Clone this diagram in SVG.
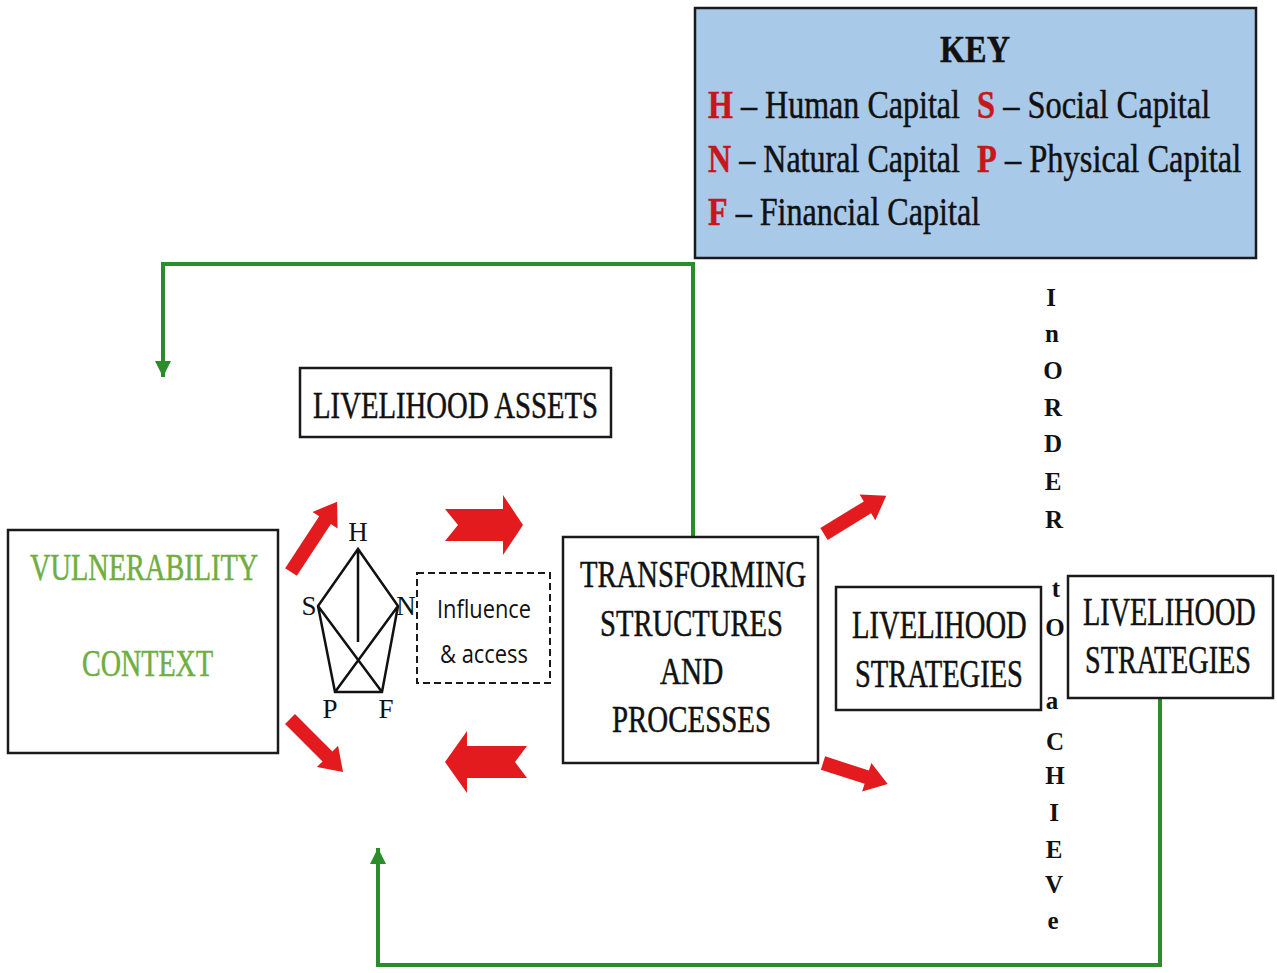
<svg xmlns="http://www.w3.org/2000/svg" width="1277" height="973" viewBox="0 0 1277 973">
<style>
.box{fill:#fff;stroke:#1a1a1a;stroke-width:2.5}
.t{font-family:"Liberation Serif","Times New Roman",serif;fill:#111;stroke:#111;stroke-width:0.5}
.g{fill:#6fae3f;stroke:#6fae3f}
.red{fill:#c8161d;stroke:#c8161d}
.ra{fill:#e31b1f}
.conn{fill:none;stroke:#2a8c2a;stroke-width:4}
.v{font-family:"Liberation Serif",serif;font-weight:bold;font-size:25px;fill:#111;text-anchor:middle}
.pl{font-family:"Liberation Serif",serif;font-size:27px;fill:#111;text-anchor:middle}
.pe{stroke:#111;stroke-width:2.5;fill:none}
</style>
<defs>
<marker id="gh" markerUnits="userSpaceOnUse" markerWidth="18" markerHeight="18" refX="16" refY="8" orient="auto">
<path d="M0,0 L16,8 L0,16 Z" fill="#2a8c2a"/>
</marker>
</defs>
<rect width="1277" height="973" fill="#fff"/>

<g id="connectors">
<path class="conn" d="M693,537 V264 H163 V377" marker-end="url(#gh)"/>
<path class="conn" d="M1160,698 V965 H378 V848" marker-end="url(#gh)"/>
<polygon class="ra" points="0,-7 62,-7 62,-15 84,0 62,15 62,7 0,7" transform="translate(291,572) rotate(-56.7)"/>
<polygon class="ra" points="0,-7 53,-7 53,-15 75,0 53,15 53,7 0,7" transform="translate(290,719) rotate(45)"/>
<polygon class="ra" points="0,-7 51,-7 51,-15 73,0 51,15 51,7 0,7" transform="translate(824,534) rotate(-31.5)"/>
<polygon class="ra" points="0,-7 46,-7 46,-15 68,0 46,15 46,7 0,7" transform="translate(823,763) rotate(18)"/>
<polygon class="ra" points="445,509 503,509 503,495 523,525 503,555 503,541 445,541 458,525"/>
<polygon class="ra" points="445,762 467,731 467,746 527,746 515,762 527,778 467,778 467,793"/>
</g>

<g id="key">
<rect x="695" y="8" width="561" height="250" fill="#a9c9e8" stroke="#1a1a1a" stroke-width="2.5"/>
<text class="t" x="975" y="62" font-size="38" font-weight="bold" text-anchor="middle" textLength="70" lengthAdjust="spacingAndGlyphs">KEY</text>
<text class="t" transform="translate(708,118) scale(0.72,1)" x="0" y="0" font-size="40" textLength="350" lengthAdjust="spacingAndGlyphs"><tspan class="red" font-weight="bold">H</tspan> – Human Capital</text>
<text class="t" transform="translate(977,118) scale(0.72,1)" x="0" y="0" font-size="40" textLength="324" lengthAdjust="spacingAndGlyphs"><tspan class="red" font-weight="bold">S</tspan> – Social Capital</text>
<text class="t" transform="translate(708,172) scale(0.72,1)" x="0" y="0" font-size="40" textLength="350" lengthAdjust="spacingAndGlyphs"><tspan class="red" font-weight="bold">N</tspan> – Natural Capital</text>
<text class="t" transform="translate(977,172) scale(0.72,1)" x="0" y="0" font-size="40" textLength="367" lengthAdjust="spacingAndGlyphs"><tspan class="red" font-weight="bold">P</tspan> – Physical Capital</text>
<text class="t" transform="translate(708,225) scale(0.72,1)" x="0" y="0" font-size="40" textLength="378" lengthAdjust="spacingAndGlyphs"><tspan class="red" font-weight="bold">F</tspan> – Financial Capital</text>
</g>

<g id="livelihood-assets">
<rect class="box" x="300" y="368" width="311" height="69"/>
<text class="t" transform="translate(313,418) scale(0.72,1)" x="0" y="0" font-size="38" textLength="396" lengthAdjust="spacingAndGlyphs">LIVELIHOOD ASSETS</text>
</g>

<g id="vulnerability-context">
<rect class="box" x="8" y="530" width="270" height="223"/>
<text class="t g" transform="translate(30,580) scale(0.72,1)" x="0" y="0" font-size="38" textLength="317" lengthAdjust="spacingAndGlyphs">VULNERABILITY</text>
<text class="t g" transform="translate(82,676) scale(0.72,1)" x="0" y="0" font-size="38" textLength="182" lengthAdjust="spacingAndGlyphs">CONTEXT</text>
</g>

<g id="asset-pentagon">
<path class="pe" d="M358,549 L318,606 L335,692 L382,692 L398,606 Z M358,549 V642 M318,606 L382,692 M398,606 L335,692"/>
<text class="pl" x="358" y="541">H</text>
<text class="pl" x="309" y="615">S</text>
<text class="pl" x="406" y="615">N</text>
<text class="pl" x="330" y="718">P</text>
<text class="pl" x="386" y="718">F</text>
</g>

<g id="influence-access">
<rect x="417" y="573" width="133" height="110" fill="#fff" stroke="#1a1a1a" stroke-width="2" stroke-dasharray="7,4"/>
<text x="437" y="618" font-family="Open Sans, Liberation Sans, sans-serif" font-size="26" fill="#111" textLength="94" lengthAdjust="spacingAndGlyphs">Influence</text>
<text x="440" y="663" font-family="Open Sans, Liberation Sans, sans-serif" font-size="26" fill="#111" textLength="88" lengthAdjust="spacingAndGlyphs">&amp; access</text>
</g>

<g id="transforming-structures">
<rect class="box" x="563" y="537" width="255" height="226"/>
<text class="t" transform="translate(580,587) scale(0.72,1)" x="0" y="0" font-size="38" textLength="314" lengthAdjust="spacingAndGlyphs">TRANSFORMING</text>
<text class="t" transform="translate(600,636) scale(0.72,1)" x="0" y="0" font-size="38" textLength="254" lengthAdjust="spacingAndGlyphs">STRUCTURES</text>
<text class="t" transform="translate(660,684) scale(0.72,1)" x="0" y="0" font-size="38" textLength="88" lengthAdjust="spacingAndGlyphs">AND</text>
<text class="t" transform="translate(612,732) scale(0.72,1)" x="0" y="0" font-size="38" textLength="221" lengthAdjust="spacingAndGlyphs">PROCESSES</text>
</g>

<g id="livelihood-strategies-1">
<rect class="box" x="836" y="587" width="205" height="123"/>
<text class="t" transform="translate(852,638) scale(0.68,1)" x="0" y="0" font-size="40" textLength="257" lengthAdjust="spacingAndGlyphs">LIVELIHOOD</text>
<text class="t" transform="translate(855,687) scale(0.68,1)" x="0" y="0" font-size="40" textLength="247" lengthAdjust="spacingAndGlyphs">STRATEGIES</text>
</g>

<g id="livelihood-strategies-2">
<rect class="box" x="1068" y="576" width="205" height="122"/>
<text class="t" transform="translate(1083,625) scale(0.68,1)" x="0" y="0" font-size="40" textLength="254" lengthAdjust="spacingAndGlyphs">LIVELIHOOD</text>
<text class="t" transform="translate(1085,673) scale(0.68,1)" x="0" y="0" font-size="40" textLength="244" lengthAdjust="spacingAndGlyphs">STRATEGIES</text>
</g>

<g id="in-order-to-achieve">
<text class="v" x="1051" y="306">I</text>
<text class="v" x="1052" y="342">n</text>
<text class="v" x="1053" y="379">O</text>
<text class="v" x="1053" y="416">R</text>
<text class="v" x="1053" y="452">D</text>
<text class="v" x="1053" y="490">E</text>
<text class="v" x="1054" y="528">R</text>
<text class="v" x="1056" y="597">t</text>
<text class="v" x="1055" y="636">O</text>
<text class="v" x="1052" y="709">a</text>
<text class="v" x="1055" y="750">C</text>
<text class="v" x="1055" y="784">H</text>
<text class="v" x="1054" y="821">I</text>
<text class="v" x="1054" y="858">E</text>
<text class="v" x="1054" y="893">V</text>
<text class="v" x="1053" y="929">e</text>
</g>
</svg>
